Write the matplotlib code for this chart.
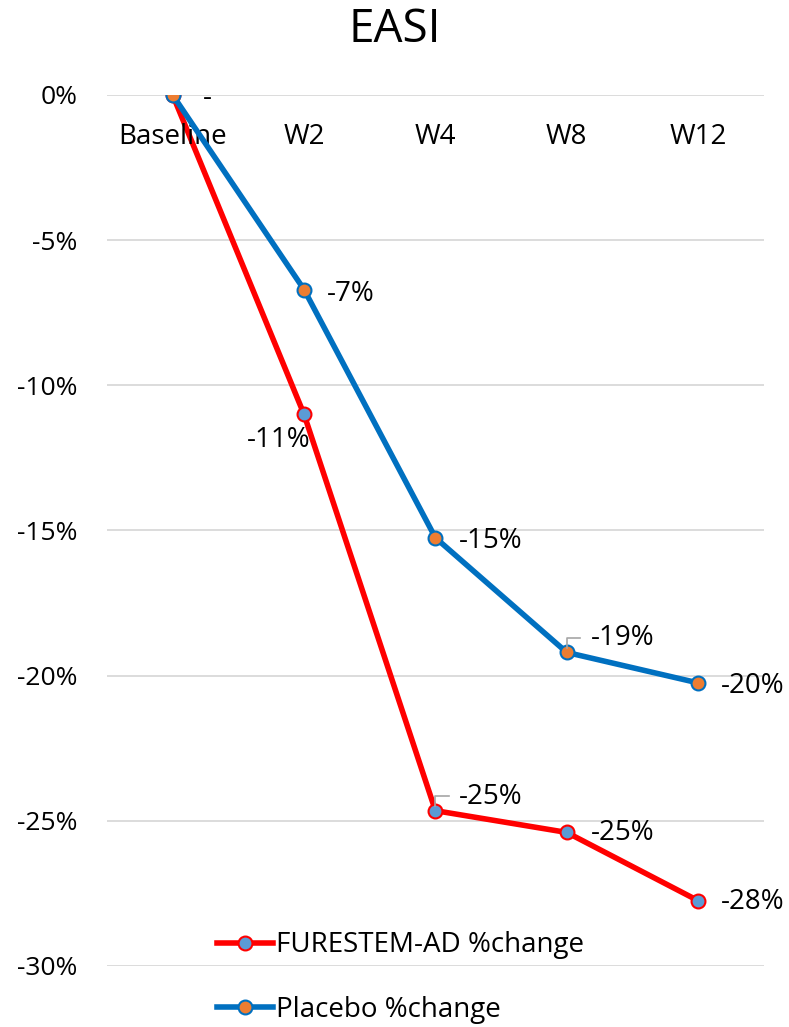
import matplotlib
matplotlib.use("Agg")
from matplotlib import pyplot as plt
from matplotlib.ticker import FuncFormatter

plt.rcParams['font.family'] = ['Open Sans', 'DejaVu Sans']

weeks = ['Baseline', 'W2', 'W4', 'W8', 'W12']
furestem = [0.0, -11.0, -24.65, -25.4, -27.75]
placebo = [0.0, -6.7, -15.25, -19.2, -20.25]
furestem_labels = ['-', '-11%', '-25%', '-25%', '-28%']
placebo_labels = ['-', '-7%', '-15%', '-19%', '-20%']

fig = plt.figure(figsize=(7.89, 10.27), dpi=100)
ax = fig.add_axes([0.1356, 0.0594, 0.8325, 0.8481])

x = list(range(len(weeks)))
ax.plot(x, furestem, '-o', color='#ff0000', lw=4, ms=10, mfc='#5b9bd5',
        mec='#ff0000', mew=1.5, label='FURESTEM-AD %change', zorder=3)
ax.plot(x, placebo, '-o', color='#0070c0', lw=4, ms=10, mfc='#ed7d31',
        mec='#0070c0', mew=1.5, label='Placebo %change', zorder=4)

ax.set_xlim(-0.5, 4.5)
ax.set_ylim(-30, 0)
ax.set_yticks([0, -5, -10, -15, -20, -25, -30])
ax.yaxis.set_major_formatter(FuncFormatter(lambda v, p: '%d%%' % v))
ax.tick_params(axis='y', labelsize=19, length=0, pad=21)
ax.set_xticks([])
ax.grid(axis='y', color='#d9d9d9', lw=1.3)
ax.set_axisbelow(True)
for s in ax.spines.values():
    s.set_visible(False)

# category labels sit just below the zero line
for i, w in enumerate(weeks):
    ax.text(i, -1.45, w, ha='center', va='center', fontsize=20)

fig.text(0.5, 0.971, 'EASI', ha='center', va='center', fontsize=33)

# data labels
lab_kw = dict(fontsize=20, va='center', ha='left')
ax.text(0.23, -0.1, '-', **lab_kw)
ax.text(1.176, -6.85, placebo_labels[1], **lab_kw)
ax.text(0.565, -11.9, furestem_labels[1], **lab_kw)
ax.text(2.18, -15.36, placebo_labels[2], **lab_kw)
ax.text(3.18, -18.7, placebo_labels[3], **lab_kw)
ax.text(4.175, -20.36, placebo_labels[4], **lab_kw)
ax.text(2.18, -24.18, furestem_labels[2], **lab_kw)
ax.text(3.18, -25.42, furestem_labels[3], **lab_kw)
ax.text(4.175, -27.8, furestem_labels[4], **lab_kw)

# leader lines
ax.plot([3.0, 3.0, 3.1], [-19.05, -18.7, -18.7], color='#a6a6a6', lw=1.2, zorder=5)
ax.plot([2.0, 2.0, 2.1], [-24.5, -24.15, -24.15], color='#a6a6a6', lw=1.2, zorder=5)

leg = ax.legend(loc='center left', bbox_to_anchor=(0.168, -0.0132), frameon=False,
                fontsize=20, handlelength=2.0, handletextpad=0.1, labelspacing=1.3,
                borderaxespad=0, borderpad=0)
fig.patch.set_facecolor('white')
fig.savefig('out.png', dpi=100)
